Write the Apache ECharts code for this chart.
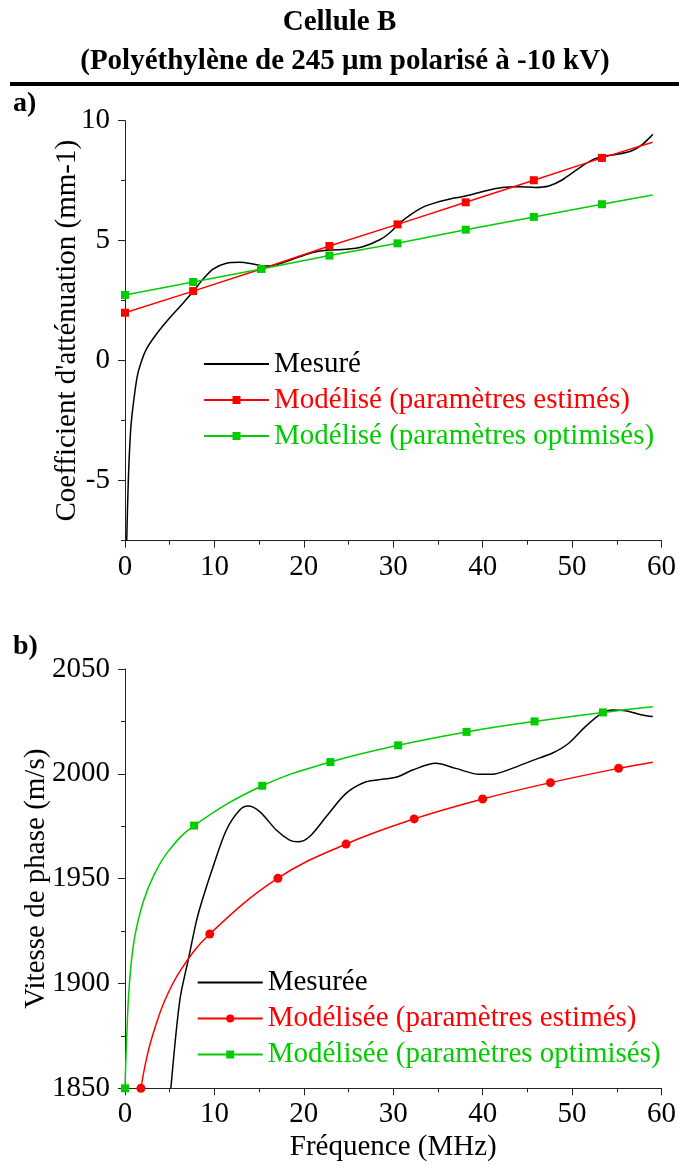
<!DOCTYPE html>
<html><head><meta charset="utf-8">
<script src="https://cdn.jsdelivr.net/npm/echarts@6/dist/echarts.min.js"></script>
<style>html,body{margin:0;padding:0;background:#fff}#c{width:679px;height:1167px}</style>
</head><body><div id="c"></div>
<script>
// ---------- tick labels ----------
const freqTicks = [0, 10, 20, 30, 40, 50, 60];
const attMajorTicks = [-5, 0, 5, 10];
const attMinorTicks = [-7.5, -2.5, 2.5, 7.5];
const speedTicks = [1850, 1900, 1950, 2000, 2050];

// ---------- series names ----------
const namesA = ['Mesuré', 'Modélisé (paramètres estimés)', 'Modélisé (paramètres optimisés)'];
const namesB = ['Mesurée', 'Modélisée (paramètres estimés)', 'Modélisée (paramètres optimisés)'];

// ---------- panel a : attenuation coefficient (mm-1) ----------
const aMeasFreq = [0.19,0.37,0.63,0.93,1.37,1.86,2.42,3.4,4.65,6.13,7.62,8.73,9.85,11.34,12.83,14.31,15.42,16.54,18.03,19.52,21.0,22.86,24.72,26.58,28.44,29.55,30.67,32.15,33.64,35.88,38.1,40.34,42.19,44.05,45.91,47.4,48.88,50.74,52.22,53.72,55.2,56.69,57.8,59.03];
const aMeasVal  = [-7.5,-5.0,-2.9,-1.8,-0.65,0.0,0.5,1.05,1.63,2.25,2.88,3.4,3.82,4.06,4.1,4.03,3.95,3.97,4.13,4.33,4.51,4.61,4.64,4.75,5.03,5.31,5.72,6.14,6.45,6.7,6.86,7.08,7.22,7.25,7.22,7.28,7.53,8.01,8.36,8.53,8.61,8.75,8.99,9.43];

const aEstFreq = [0, 7.62, 15.24, 22.86, 30.48, 38.1, 45.72, 53.34, 59];
const aEstVal  = [2.0, 2.9, 3.82, 4.78, 5.68, 6.6, 7.52, 8.45, 9.1];
const aEstMark = [1, 1, 1, 1, 1, 1, 1, 1, 0];

const aOptFreq = [0, 7.62, 15.24, 22.86, 30.48, 38.1, 45.72, 53.34, 59];
const aOptVal  = [2.74, 3.28, 3.82, 4.38, 4.89, 5.46, 5.99, 6.52, 6.9];
const aOptMark = [1, 1, 1, 1, 1, 1, 1, 1, 0];

// ---------- panel b : phase velocity (m/s) ----------
const bMeasFreq = [5.13,6.13,7.06,8.0,8.73,9.85,11.34,12.83,13.75,15.06,16.92,18.4,19.33,20.63,22.49,24.72,26.95,28.8,30.5,32.15,34.76,36.99,39.59,41.07,43.3,45.53,47.76,49.63,51.49,53.34,54.46,55.95,57.8,59.03];
const bMeasVal  = [1850,1892,1911,1930,1941,1955.7,1973.2,1982.7,1984.6,1982,1973.2,1968.4,1967.6,1970,1979.5,1990.7,1996.2,1997.4,1998.6,2001.8,2005,2002.6,1999.8,1999.8,2002.6,2006.3,2009.8,2014.6,2022.5,2028.9,2030.4,2030.1,2028.1,2027.3];

const bEstFreq = [1.78, 2.3, 3.0, 4.46, 6.32, 9.48, 17.1, 24.72, 32.34, 40.0, 47.58, 55.2, 59.03];
const bEstVal  = [1850, 1862, 1874, 1892, 1907, 1923.6, 1950.2, 1966.5, 1978.5, 1988, 1995.8, 2002.6, 2005.5];
const bEstMark = [1, 0, 0, 0, 0, 1, 1, 1, 1, 1, 1, 1, 0];

const bOptFreq = [0, 0.19, 0.48, 1.04, 2.04, 3.16, 4.83, 7.73, 15.35, 22.97, 30.55, 38.2, 45.8, 53.45, 59.03];
const bOptVal  = [1850, 1874, 1899, 1921, 1939, 1951, 1963, 1975.3, 1994.3, 2005.6, 2013.6, 2020, 2025, 2029.3, 2032];
const bOptMark = [1, 0, 0, 0, 0, 0, 0, 1, 1, 1, 1, 1, 1, 1, 0];

// ---------- helpers ----------
function pairs(xs, ys, marks) {
  return xs.map((x, i) => {
    const item = { value: [x, ys[i]] };
    if (marks && !marks[i]) item.symbol = 'none';
    return item;
  });
}

const FONT = '"Liberation Serif", "Times New Roman", serif';
const AX = '#222';
const RED = '#ff0000';
const GREEN = '#00cc00';

const labelStyle = { fontFamily: FONT, fontSize: 29, color: '#000' };
const plain = v => String(v);

function xAxisCfg(gridIndex, withName) {
  return {
    type: 'value', gridIndex, min: 0, max: 60, interval: 10,
    axisLine: { show: true, onZero: false, lineStyle: { color: AX, width: 1 } },
    axisTick: { show: true, length: 7, lineStyle: { color: AX } },
    minorTick: { show: true, splitNumber: 2, length: 4, lineStyle: { color: AX } },
    axisLabel: Object.assign({ margin: 12, customValues: freqTicks, formatter: plain }, labelStyle),
    splitLine: { show: false },
    name: withName ? 'Fréquence (MHz)' : '',
    nameLocation: 'middle', nameGap: 45, nameMoveOverlap: false,
    nameTextStyle: labelStyle
  };
}

const chart = echarts.init(document.getElementById('c'), null, { renderer: 'canvas' });

const option = {
  animation: false,
  backgroundColor: '#fff',
  grid: [
    { left: 125, top: 120.7, width: 538, height: 420 },
    { left: 125, top: 669, width: 538, height: 419.3 }
  ],
  xAxis: [xAxisCfg(0, false), xAxisCfg(1, true)],
  yAxis: [
    {
      type: 'value', gridIndex: 0, position: 'left', min: -7.5, max: 10, interval: 2.5,
      axisLine: { show: true, onZero: false, lineStyle: { color: AX } },
      axisTick: { show: true, length: 7, customValues: attMajorTicks, lineStyle: { color: AX } },
      axisLabel: Object.assign({ margin: 15, customValues: attMajorTicks, formatter: plain }, labelStyle),
      splitLine: { show: false },
      name: "Coefficient d'atténuation (mm-1)", nameLocation: 'middle', nameGap: 43, nameMoveOverlap: false,
      nameTextStyle: labelStyle
    },
    {
      type: 'value', gridIndex: 0, position: 'left', offset: 0, min: -7.5, max: 10, interval: 2.5,
      axisLine: { show: false },
      axisTick: { show: true, length: 4, customValues: attMinorTicks, lineStyle: { color: AX } },
      axisLabel: { show: false },
      splitLine: { show: false }
    },
    {
      type: 'value', gridIndex: 1, position: 'left', min: 1850, max: 2050, interval: 50,
      axisLine: { show: true, onZero: false, lineStyle: { color: AX } },
      axisTick: { show: true, length: 7, lineStyle: { color: AX } },
      minorTick: { show: true, splitNumber: 2, length: 4, lineStyle: { color: AX } },
      axisLabel: Object.assign({ margin: 15, customValues: speedTicks, formatter: plain }, labelStyle),
      splitLine: { show: false },
      name: 'Vitesse de phase (m/s)', nameLocation: 'middle', nameGap: 74, nameMoveOverlap: false,
      nameTextStyle: labelStyle
    }
  ],
  legend: [
    {
      orient: 'vertical', left: 198, top: 344, itemWidth: 65, itemHeight: 10, itemGap: 6,
      selectedMode: false,
      textStyle: { fontFamily: FONT, fontSize: 29, lineHeight: 30 },
      data: [
        { name: namesA[0], textStyle: { color: '#000' }, itemStyle: { color: 'rgba(0,0,0,0)', borderWidth: 0 } },
        { name: namesA[1], textStyle: { color: RED } },
        { name: namesA[2], textStyle: { color: GREEN } }
      ]
    },
    {
      orient: 'vertical', left: 191.7, top: 962.5, itemWidth: 65, itemHeight: 10, itemGap: 6,
      selectedMode: false,
      textStyle: { fontFamily: FONT, fontSize: 29, lineHeight: 30 },
      data: [
        { name: namesB[0], textStyle: { color: '#000' }, itemStyle: { color: 'rgba(0,0,0,0)', borderWidth: 0 } },
        { name: namesB[1], textStyle: { color: RED } },
        { name: namesB[2], textStyle: { color: GREEN } }
      ]
    }
  ],
  series: [
    {
      name: namesA[0], type: 'line', xAxisIndex: 0, yAxisIndex: 0,
      data: pairs(aMeasFreq, aMeasVal), symbol: 'none', showSymbol: false,
      smooth: 0.3, color: '#000', lineStyle: { color: '#000', width: 1.5 }
    },
    {
      name: namesA[1], type: 'line', xAxisIndex: 0, yAxisIndex: 0, clip: false,
      data: pairs(aEstFreq, aEstVal, aEstMark), symbol: 'rect', symbolSize: 8, showAllSymbol: true,
      color: RED, itemStyle: { color: RED }, lineStyle: { color: RED, width: 1.5 }
    },
    {
      name: namesA[2], type: 'line', xAxisIndex: 0, yAxisIndex: 0, clip: false,
      data: pairs(aOptFreq, aOptVal, aOptMark), symbol: 'rect', symbolSize: 8, showAllSymbol: true,
      color: GREEN, itemStyle: { color: GREEN }, lineStyle: { color: GREEN, width: 1.5 }
    },
    {
      name: namesB[0], type: 'line', xAxisIndex: 1, yAxisIndex: 2,
      data: pairs(bMeasFreq, bMeasVal), symbol: 'none', showSymbol: false,
      smooth: 0.3, color: '#000', lineStyle: { color: '#000', width: 1.5 }
    },
    {
      name: namesB[1], type: 'line', xAxisIndex: 1, yAxisIndex: 2, clip: false,
      data: pairs(bEstFreq, bEstVal, bEstMark), symbol: 'circle', symbolSize: 9, showAllSymbol: true,
      smooth: 0.4,
      color: RED, itemStyle: { color: RED }, lineStyle: { color: RED, width: 1.5 }
    },
    {
      name: namesB[2], type: 'line', xAxisIndex: 1, yAxisIndex: 2, clip: false,
      data: pairs(bOptFreq, bOptVal, bOptMark), symbol: 'rect', symbolSize: 8, showAllSymbol: true,
      smooth: 0.4,
      color: GREEN, itemStyle: { color: GREEN }, lineStyle: { color: GREEN, width: 1.5 }
    }
  ],
  graphic: [
    { type: 'text', x: 339.5, y: 22.5, style: { text: 'Cellule B', font: 'bold 29px ' + FONT, fill: '#000', align: 'center', verticalAlign: 'middle' } },
    { type: 'text', x: 345, y: 62, style: { text: '(Polyéthylène de 245 μm polarisé à -10 kV)', font: 'bold 29px ' + FONT, fill: '#000', align: 'center', verticalAlign: 'middle' } },
    { type: 'rect', shape: { x: 10, y: 82, width: 669, height: 4 }, style: { fill: '#000' } },
    { type: 'text', x: 13, y: 104, style: { text: 'a)', font: 'bold 28px ' + FONT, fill: '#000', align: 'left', verticalAlign: 'middle' } },
    { type: 'text', x: 13, y: 647, style: { text: 'b)', font: 'bold 28px ' + FONT, fill: '#000', align: 'left', verticalAlign: 'middle' } }
  ]
};

chart.setOption(option);
</script>
</body></html>
